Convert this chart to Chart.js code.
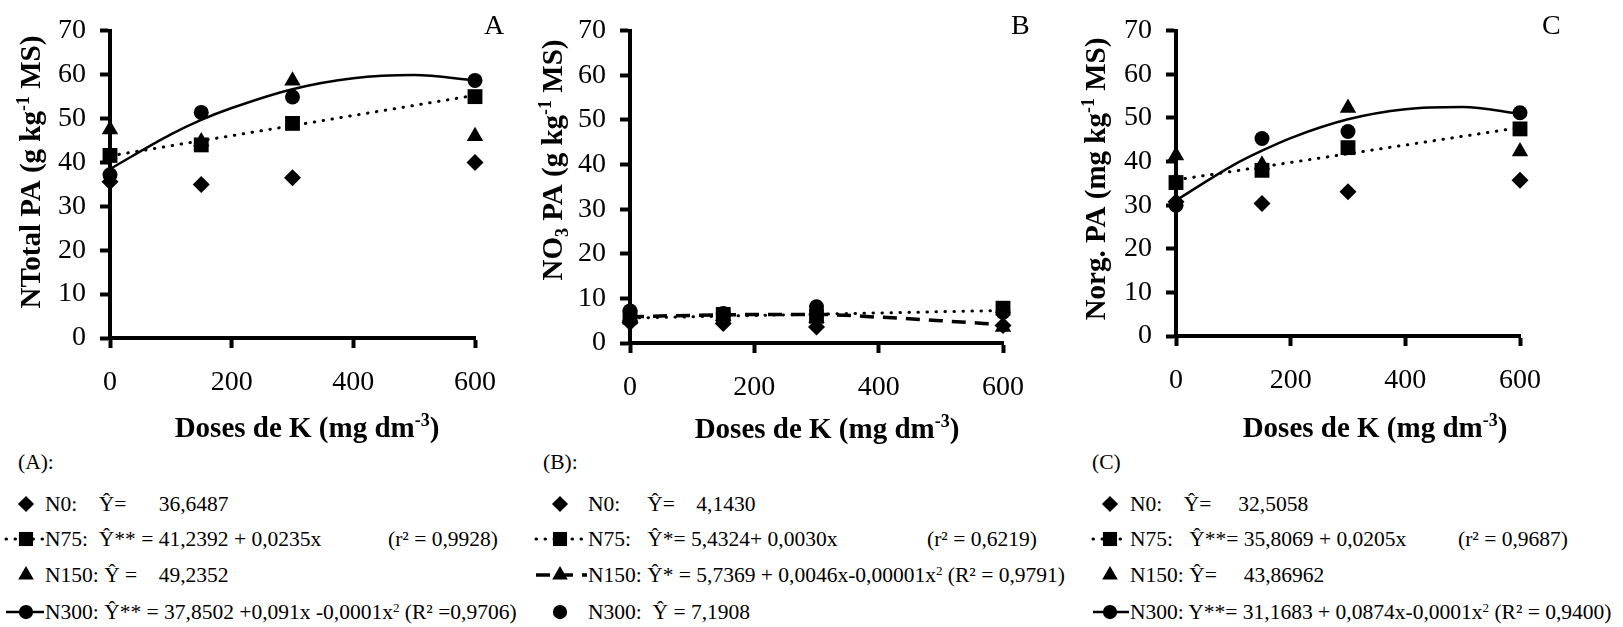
<!DOCTYPE html>
<html lang="pt">
<head>
<meta charset="utf-8">
<title>Teores de N na parte aérea x doses de K</title>
<script src="https://cdn.jsdelivr.net/npm/chart.js@4.4.1/dist/chart.umd.min.js"></script>
<style>
  body { margin: 0; width: 1623px; height: 627px; background: #fff; position: relative; overflow: hidden;
         font-family: "Liberation Serif", "Times New Roman", serif; color: #000; }
  canvas.painel { position: absolute; top: 0; }
  .letra { position: absolute; top: 9px; font-size: 28px; line-height: 32px; }
  .leg { position: absolute; font-size: 21.5px; line-height: 24px; white-space: pre; }
  .leg canvas { position: absolute; top: -1px; }
  .leg sup { font-size: 13px; vertical-align: 7px; line-height: 0; }
</style>
</head>
<body>
<canvas id="grafico-a" class="painel" width="520" height="450" style="left:0"></canvas>
<canvas id="grafico-b" class="painel" width="530" height="450" style="left:520px"></canvas>
<canvas id="grafico-c" class="painel" width="573" height="450" style="left:1050px"></canvas>
<div class="letra" style="left:484px">A</div>
<div class="letra" style="left:1011px">B</div>
<div class="letra" style="left:1542px">C</div>
<div id="legendas"></div>

<script>
// --- Dados ---
const dosesK = [0, 150, 300, 600];
const dosesCurva = [0, 100, 150, 200, 300, 400, 500, 600];
const dosesReta = [0, 600];
const ticksY = [0, 10, 20, 30, 40, 50, 60, 70];
const ticksX = [0, 200, 400, 600];

// (A) NTotal PA
const aN0 = [35.6, 35.0, 36.5, 40.0];
const aN75 = [41.6, 44.0, 48.9, 55.0];
const aN150 = [47.5, 44.8, 58.6, 46.0];
const aN300 = [37.2, 51.4, 54.9, 58.7];
const aRetaN75 = [41.5, 55.3];
const aCurvaN300 = [38.5, 46.4, 49.7, 52.4, 56.7, 59.2, 59.9, 58.7];

// (B) NO3 PA
const bN0 = [4.6, 4.4, 3.6, 3.9];
const bN75 = [5.8, 6.4, 6.0, 7.8];
const bN150 = [5.9, 6.0, 5.6, 3.6];
const bN300 = [7.2, 6.6, 8.1, 6.9];
const bRetaN75 = [5.6, 7.3];
const bCurvaN150 = [5.9, 6.2, 6.3, 6.4, 6.4, 5.8, 5.0, 4.1];

// (C) Norg. PA
const cN0 = [30.8, 30.4, 33.1, 35.7];
const cN75 = [35.2, 38.0, 43.2, 47.5];
const cN150 = [41.4, 39.3, 52.3, 42.3];
const cN300 = [30.0, 45.3, 46.9, 51.2];
const cRetaN75 = [35.8, 47.8];
const cCurvaN300 = [31.1, 39.2, 42.5, 45.4, 49.7, 52.0, 52.5, 51.0];

// --- Legendas (texto) ---
const legendaA = {
  cab: "(A):",
  N0: "N0:    Ŷ=      36,6487",
  N75: "N75:  Ŷ** = 41,2392 + 0,0235x",
  N75r: "(r² = 0,9928)",
  N150: "N150: Ŷ =    49,2352",
  N300: "N300: Ŷ** = 37,8502 +0,091x -0,0001x<sup>2</sup> (R² =0,9706)"
};
const legendaB = {
  cab: "(B):",
  N0: "N0:     Ŷ=    4,1430",
  N75: "N75:   Ŷ*= 5,4324+ 0,0030x",
  N75r: "(r² = 0,6219)",
  N150: "N150: Ŷ* = 5,7369 + 0,0046x-0,00001x<sup>2</sup> (R² = 0,9791)",
  N300: "N300:  Ŷ = 7,1908"
};
const legendaC = {
  cab: "(C)",
  N0: "N0:    Ŷ=     32,5058",
  N75: "N75:   Ŷ**= 35,8069 + 0,0205x",
  N75r: "(r² = 0,9687)",
  N150: "N150: Ŷ=     43,86962",
  N300: "N300: Y**= 31,1683 + 0,0874x-0,0001x<sup>2</sup> (R² = 0,9400)"
};

// --- Estilos ---
const SERIF = "'Liberation Serif', 'Times New Roman', serif";
const marcadores = {
  N0: { pointStyle: 'rectRot', radius: 8.5 },
  N75: { pointStyle: 'rect', radius: 10.5 },
  N150: { pointStyle: 'triangle', radius: 9.5 },
  N300: { pointStyle: 'circle', radius: 7.5 }
};
const tracos = {
  pontilhado: { borderWidth: 3, borderDash: [0.5, 8.5], borderCapStyle: 'round' },
  continuo: { borderWidth: 2.5, borderDash: [], borderCapStyle: 'butt' },
  tracejado: { borderWidth: 3.5, borderDash: [14, 9], borderCapStyle: 'butt' }
};

const pares = (xs, ys) => xs.map((x, i) => ({ x, y: ys[i] }));

function pontos(serie, ys) {
  const m = marcadores[serie];
  return {
    label: serie, data: pares(dosesK, ys), showLine: false, clip: false,
    pointStyle: m.pointStyle, pointRadius: m.radius, pointHoverRadius: m.radius,
    pointBackgroundColor: '#000', pointBorderWidth: 0, borderColor: '#000'
  };
}

function linha(xs, ys, traco) {
  const t = tracos[traco];
  return {
    label: 'ajuste', data: pares(xs, ys), showLine: true, clip: false,
    pointRadius: 0, borderColor: '#000', borderWidth: t.borderWidth,
    borderDash: t.borderDash, borderCapStyle: t.borderCapStyle,
    cubicInterpolationMode: 'monotone', fill: false
  };
}

// titulos dos eixos com sobrescrito/subscrito
const titulosEixos = {
  id: 'titulosEixos',
  afterDraw(chart, args, opts) {
    const ctx = chart.ctx;
    const escrever = (partes, cx, cy, rot) => {
      ctx.save();
      ctx.translate(cx, cy);
      ctx.rotate(rot);
      ctx.fillStyle = '#000';
      ctx.textBaseline = 'alphabetic';
      const fontes = partes.map(p => `bold ${p[1] ? 18 : 29}px ${SERIF}`);
      let total = 0;
      partes.forEach((p, i) => { ctx.font = fontes[i]; total += ctx.measureText(p[0]).width; });
      let x = -total / 2;
      partes.forEach((p, i) => {
        ctx.font = fontes[i];
        const dy = p[1] === 'sup' ? -11 : p[1] === 'sub' ? 6 : 0;
        ctx.fillText(p[0], x, 10 + dy);
        x += ctx.measureText(p[0]).width;
      });
      ctx.restore();
    };
    escrever(opts.x.partes, opts.x.cx, opts.x.cy, 0);
    escrever(opts.y.partes, opts.y.cx, opts.y.cy, -Math.PI / 2);
  }
};

const tituloDoses = [['Doses de K (mg dm', ''], ['-3', 'sup'], [')', '']];

function criarGrafico(id, datasets, cfg) {
  const eixo = {
    border: { display: true, width: 4, color: '#000' },
    grid: { drawOnChartArea: false, drawTicks: true, tickLength: 10, tickWidth: 4, tickColor: '#000' }
  };
  return new Chart(document.getElementById(id), {
    type: 'scatter',
    data: { datasets },
    plugins: [titulosEixos],
    options: {
      responsive: false,
      animation: false,
      events: [],
      layout: { padding: cfg.padding },
      plugins: {
        legend: { display: false },
        tooltip: { enabled: false },
        titulosEixos: {
          x: { partes: tituloDoses, cx: cfg.tituloX[0], cy: cfg.tituloX[1] },
          y: { partes: cfg.tituloY, cx: cfg.posTituloY[0], cy: cfg.posTituloY[1] }
        }
      },
      scales: {
        x: {
          ...eixo, type: 'linear', min: 0, max: 600,
          afterBuildTicks: s => { s.ticks = ticksX.map(v => ({ value: v })); },
          ticks: { padding: 18, color: '#000', font: { family: SERIF, size: 28 } },
          afterFit: s => { s.height = cfg.alturaX; }
        },
        y: {
          ...eixo, type: 'linear', min: 0, max: 70,
          afterBuildTicks: s => { s.ticks = ticksY.map(v => ({ value: v })); },
          ticks: { padding: 14, color: '#000', font: { family: SERIF, size: 28 } },
          afterFit: s => { s.width = cfg.larguraY; }
        }
      }
    }
  });
}

criarGrafico('grafico-a', [
  pontos('N75', aN75), pontos('N150', aN150), pontos('N300', aN300), pontos('N0', aN0),
  linha(dosesReta, aRetaN75, 'pontilhado'), linha(dosesCurva, aCurvaN300, 'continuo')
], {
  padding: { left: 0, right: 45, top: 22, bottom: 0 }, larguraY: 110, alturaX: 112,
  tituloX: [307, 427], posTituloY: [30, 172],
  tituloY: [['NTotal PA (g kg', ''], ['-1', 'sup'], [' MS)', '']]
});

criarGrafico('grafico-b', [
  pontos('N75', bN75), pontos('N150', bN150), pontos('N300', bN300), pontos('N0', bN0),
  linha(dosesReta, bRetaN75, 'pontilhado'), linha(dosesCurva, bCurvaN150, 'tracejado')
], {
  padding: { left: 0, right: 47, top: 20, bottom: 0 }, larguraY: 110, alturaX: 107,
  tituloX: [307, 428], posTituloY: [32, 160],
  tituloY: [['NO', ''], ['3', 'sub'], [' PA (g kg', ''], ['-1', 'sup'], [' MS)', '']]
});

criarGrafico('grafico-c', [
  pontos('N75', cN75), pontos('N150', cN150), pontos('N300', cN300), pontos('N0', cN0),
  linha(dosesReta, cRetaN75, 'pontilhado'), linha(dosesCurva, cCurvaN300, 'continuo')
], {
  padding: { left: 0, right: 103, top: 23, bottom: 0 }, larguraY: 126, alturaX: 114,
  tituloX: [325, 427], posTituloY: [45, 179],
  tituloY: [['Norg. PA (mg kg', ''], ['-1', 'sup'], [' MS)', '']]
});

// --- Legendas em HTML com ícones desenhados pelo Chart.js ---
const caixa = document.getElementById('legendas');
const linhasY = { cab: 462, N0: 504, N75: 539, N150: 575, N300: 612 };

function icone(serie, traco, largura, centro) {
  const cv = document.createElement('canvas');
  cv.width = largura; cv.height = 26;
  const ctx = cv.getContext('2d');
  if (traco) {
    const t = tracos[traco];
    ctx.strokeStyle = '#000';
    ctx.lineWidth = t.borderWidth;
    ctx.lineCap = t.borderCapStyle;
    ctx.setLineDash(t.borderDash);
    ctx.beginPath(); ctx.moveTo(3, 13); ctx.lineTo(largura - 1, 13); ctx.stroke();
    ctx.setLineDash([]);
  }
  if (serie) {
    ctx.fillStyle = '#000';
    const m = marcadores[serie];
    Chart.helpers.drawPoint(ctx, { pointStyle: m.pointStyle, radius: m.radius * 0.95, rotation: 0, borderWidth: 0 }, centro, 13);
  }
  return cv;
}

function montarLegenda(leg, cfg) {
  const cab = document.createElement('div');
  cab.className = 'leg';
  cab.style.left = cfg.cab + 'px';
  cab.style.top = (linhasY.cab - 12) + 'px';
  cab.textContent = leg.cab;
  caixa.appendChild(cab);
  ['N0', 'N75', 'N150', 'N300'].forEach(serie => {
    const d = document.createElement('div');
    d.className = 'leg';
    d.style.left = cfg.texto + 'px';
    d.style.top = (linhasY[serie] - 12) + 'px';
    d.innerHTML = leg[serie];
    const cv = icone(serie, cfg.tracos[serie], cfg.texto - cfg.icone, cfg.centro);
    cv.style.left = (cfg.icone - cfg.texto) + 'px';
    d.appendChild(cv);
    caixa.appendChild(d);
  });
  const r = document.createElement('div');
  r.className = 'leg';
  r.style.left = cfg.r2 + 'px';
  r.style.top = (linhasY.N75 - 12) + 'px';
  r.textContent = leg.N75r;
  caixa.appendChild(r);
}

montarLegenda(legendaA, { cab: 18, icone: 3, texto: 45, centro: 23, r2: 388,
  tracos: { N0: null, N75: 'pontilhado', N150: null, N300: 'continuo' } });
montarLegenda(legendaB, { cab: 543, icone: 533, texto: 588, centro: 27, r2: 927,
  tracos: { N0: null, N75: 'pontilhado', N150: 'tracejado', N300: null } });
montarLegenda(legendaC, { cab: 1092, icone: 1090, texto: 1130, centro: 20, r2: 1458,
  tracos: { N0: null, N75: 'pontilhado', N150: null, N300: 'continuo' } });
</script>
</body>
</html>
